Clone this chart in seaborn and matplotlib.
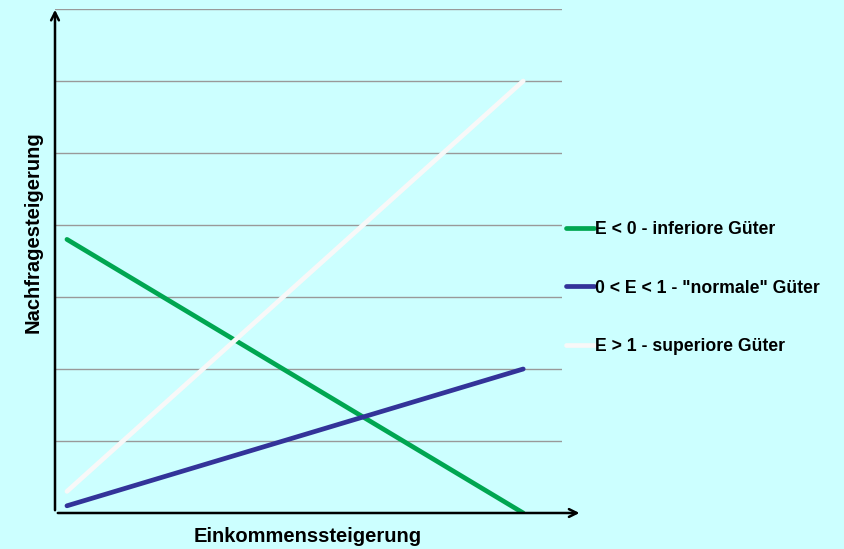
import pandas as pd
import matplotlib
matplotlib.use("Agg")
import matplotlib.pyplot as plt
import seaborn as sns

# two ends of each line (start / end of income increase)
x_pos = [0, 1]
labels = ["E < 0 - inferiore Güter", '0 < E < 1 - "normale" Güter', "E > 1 - superiore Güter"]
inferior = [3.8, 0.0]
normal = [0.1, 2.0]
superior = [0.3, 6.0]
colors = ["#00A651", "#333399", "#F8F8F8"]

df = pd.DataFrame({
    "x": x_pos * 3,
    "y": inferior + normal + superior,
    "Gut": [labels[0]] * 2 + [labels[1]] * 2 + [labels[2]] * 2,
})

sns.set_style("white")
plt.rcParams["font.family"] = ["Liberation Sans", "DejaVu Sans"]
plt.rcParams["text.color"] = "black"
plt.rcParams["axes.labelcolor"] = "black"

fig = plt.figure(figsize=(8.45, 5.49), dpi=100, facecolor="#CCFFFF")
ax = fig.add_axes([55 / 845, 36 / 549, 507 / 845, 504 / 549])
ax.set_facecolor("#CCFFFF")

sns.lineplot(data=df, x="x", y="y", hue="Gut", palette=colors, linewidth=3.4,
             ax=ax, legend=True, solid_capstyle="round")

ax.set_xlim(-0.0262, 1.085)
ax.set_ylim(0, 7)
ax.set_yticks(range(1, 8))
ax.set_xticks([])
ax.tick_params(left=False, labelleft=False)
ax.grid(axis="y", color="#999999", linewidth=1)
for s in ax.spines.values():
    s.set_visible(False)

# axes drawn as arrows
ax.annotate("", xy=(0, 1.004), xytext=(0, 0), xycoords="axes fraction",
            arrowprops=dict(arrowstyle="->", color="black", lw=1.8, mutation_scale=14),
            annotation_clip=False)
ax.annotate("", xy=(1.04, 0), xytext=(0, 0), xycoords="axes fraction",
            arrowprops=dict(arrowstyle="->", color="black", lw=1.8, mutation_scale=14),
            annotation_clip=False)

ax.set_xlabel("Einkommenssteigerung", fontsize=14.5, fontweight="bold")
ax.set_ylabel("Nachfragesteigerung", fontsize=14.5, fontweight="bold")
ax.xaxis.set_label_coords(0.499, -0.028)
ax.yaxis.set_label_coords(-0.024, 0.558)

leg = ax.legend(loc="upper left", bbox_to_anchor=(566 / 845, 1 - 221 / 549),
                bbox_transform=fig.transFigure, frameon=False, fontsize=12.7,
                handlelength=1.6, handletextpad=0.05, labelspacing=2.36,
                borderpad=0, borderaxespad=0)
for t in leg.get_texts():
    t.set_fontweight("bold")

plt.savefig("out.png", dpi=100, facecolor=fig.get_facecolor())
